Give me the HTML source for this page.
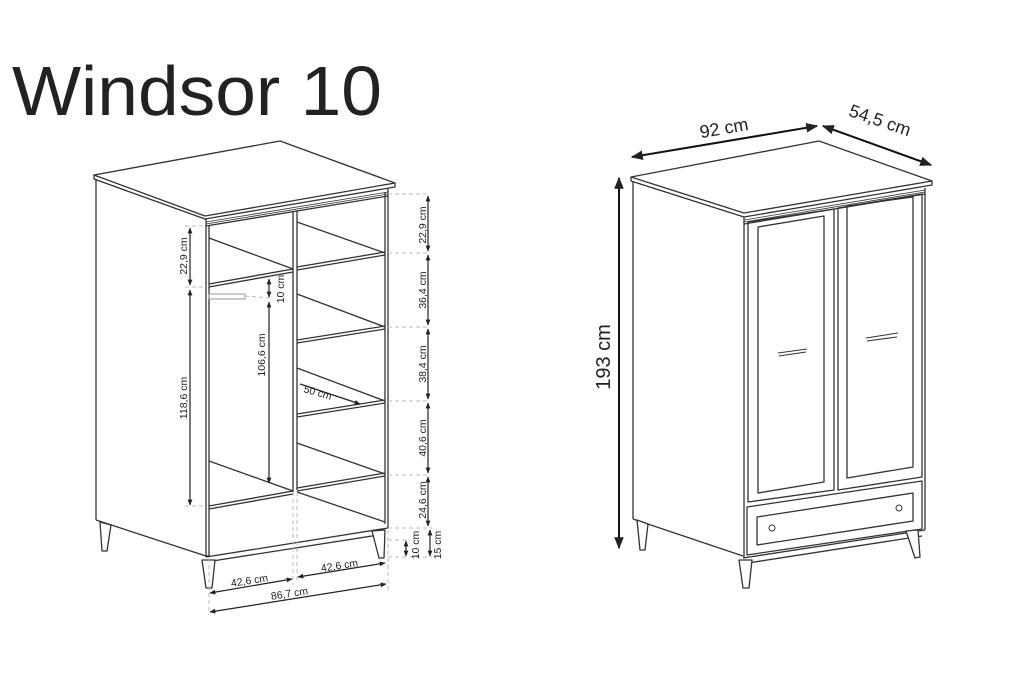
<!DOCTYPE html>
<html><head><meta charset="utf-8"><style>
html,body{margin:0;padding:0;background:#fff;}
svg{display:block;}
text{font-family:"Liberation Sans",sans-serif;fill:#222;}
</style></head><body>
<svg width="1024" height="680" viewBox="0 0 1024 680" xmlns="http://www.w3.org/2000/svg">
<defs>
<marker id="a" viewBox="0 0 10 10" refX="9" refY="5" markerWidth="6" markerHeight="6" orient="auto-start-reverse"><path d="M0,1 L10,5 L0,9 z" fill="#222"/></marker>
<marker id="b" viewBox="0 0 10 10" refX="9" refY="5" markerWidth="5" markerHeight="5" orient="auto-start-reverse"><path d="M0,1 L10,5 L0,9 z" fill="#222"/></marker>
</defs>
<rect width="1024" height="680" fill="#fff"/>
<text x="12" y="115" font-size="70" textLength="370" lengthAdjust="spacingAndGlyphs">Windsor 10</text>

<!-- LEFT CABINET -->
<g fill="none" stroke="#333" stroke-width="1.3" stroke-linejoin="round">
<polygon points="94,175 280,141 395,183 205,216" fill="#fff"/>
<polyline points="94,175 94,179 205,219 395,187 395,183"/>
<line x1="96" y1="179" x2="96" y2="520"/>
<line x1="96" y1="520" x2="206" y2="556"/>
<line x1="206" y1="219" x2="206" y2="557"/>
<line x1="209" y1="226" x2="209" y2="556"/>
<line x1="388" y1="188" x2="388" y2="528"/>
<line x1="385" y1="192" x2="385" y2="524"/>
<line x1="206" y1="222" x2="388" y2="192" stroke-width="0.8"/>
<line x1="206" y1="224" x2="388" y2="194" stroke-width="0.8"/>
<line x1="206" y1="226" x2="388" y2="196"/>
<line x1="206" y1="557" x2="388" y2="528"/>
<line x1="206" y1="562" x2="385" y2="534"/>
<line x1="206" y1="556" x2="210" y2="556"/>
<line x1="293" y1="212" x2="293" y2="492"/>
<line x1="297" y1="211" x2="297" y2="490"/>
<line x1="209" y1="238" x2="293" y2="269"/>
<line x1="209" y1="284" x2="293" y2="269"/>
<line x1="209" y1="287" x2="293" y2="272"/>
<line x1="209" y1="461" x2="293" y2="491"/>
<line x1="209" y1="506" x2="293" y2="491"/>
<line x1="209" y1="509" x2="293" y2="494"/>
<line x1="297" y1="492" x2="385" y2="522"/>
<rect x="209" y="294" width="36" height="5" stroke="#999" stroke-width="1"/>
<line x1="297" y1="222" x2="385" y2="253"/>
<line x1="297" y1="267" x2="385" y2="252"/><line x1="297" y1="270" x2="385" y2="255"/>
<line x1="297" y1="294" x2="385" y2="327"/>
<line x1="297" y1="340" x2="385" y2="326"/><line x1="297" y1="343" x2="385" y2="329"/>
<line x1="297" y1="368" x2="385" y2="401"/>
<line x1="297" y1="414" x2="385" y2="400"/><line x1="297" y1="417" x2="385" y2="403"/>
<line x1="297" y1="443" x2="385" y2="474"/>
<line x1="297" y1="488" x2="385" y2="473"/><line x1="297" y1="491" x2="385" y2="476"/>
<polygon points="202,560 215,560 212,588 206,588" fill="#fff"/>
<polygon points="372,531 385,530 384,558 379,558" fill="#fff"/>
<polygon points="100,522 111,525 107,551 102,551" fill="#fff"/>
</g>
<g stroke="#bbb" stroke-width="1" stroke-dasharray="4,3" fill="none">
<line x1="388" y1="194" x2="428" y2="194"/>
<line x1="388" y1="253" x2="428" y2="253"/>
<line x1="388" y1="327" x2="428" y2="327"/>
<line x1="388" y1="401" x2="428" y2="401"/>
<line x1="388" y1="475" x2="428" y2="475"/>
<line x1="388" y1="528" x2="432" y2="528"/>
<line x1="388" y1="557" x2="432" y2="557"/>
<line x1="388" y1="540" x2="408" y2="540"/>
<line x1="293" y1="492" x2="293" y2="585"/>
<line x1="297" y1="492" x2="297" y2="580"/>
<line x1="209" y1="558" x2="209" y2="615"/>
<line x1="388" y1="530" x2="388" y2="590"/>
<line x1="185" y1="226" x2="206" y2="226"/>
<line x1="185" y1="287" x2="206" y2="287"/>
<line x1="185" y1="506" x2="206" y2="506"/>
<line x1="245" y1="296" x2="270" y2="298"/>
</g>
<g stroke="#222" stroke-width="1.2" fill="none">
<line x1="190" y1="228" x2="190" y2="285" marker-start="url(#b)" marker-end="url(#b)"/>
<line x1="190" y1="290" x2="190" y2="505" marker-start="url(#b)" marker-end="url(#b)"/>
<line x1="269" y1="279" x2="269" y2="297" marker-start="url(#b)" marker-end="url(#b)"/>
<line x1="269" y1="302" x2="269" y2="483" marker-start="url(#b)" marker-end="url(#b)"/>
<line x1="300" y1="384" x2="360" y2="404" marker-end="url(#b)"/>
<line x1="428" y1="196" x2="428" y2="251" marker-start="url(#b)" marker-end="url(#b)"/>
<line x1="428" y1="255" x2="428" y2="325" marker-start="url(#b)" marker-end="url(#b)"/>
<line x1="428" y1="329" x2="428" y2="399" marker-start="url(#b)" marker-end="url(#b)"/>
<line x1="428" y1="403" x2="428" y2="473" marker-start="url(#b)" marker-end="url(#b)"/>
<line x1="428" y1="477" x2="428" y2="526" marker-start="url(#b)" marker-end="url(#b)"/>
<line x1="406" y1="541" x2="406" y2="556" marker-start="url(#b)" marker-end="url(#b)"/>
<line x1="430" y1="530" x2="430" y2="556" marker-start="url(#b)" marker-end="url(#b)"/>
<line x1="210" y1="593" x2="292" y2="579" marker-start="url(#b)" marker-end="url(#b)"/>
<line x1="298" y1="577" x2="385" y2="563" marker-start="url(#b)" marker-end="url(#b)"/>
<line x1="210" y1="612" x2="386" y2="584" marker-start="url(#b)" marker-end="url(#b)"/>
</g>
<g font-size="10.5">
<text transform="translate(187,256) rotate(-90)" text-anchor="middle">22,9 cm</text>
<text transform="translate(187,398) rotate(-90)" text-anchor="middle">118,6 cm</text>
<text transform="translate(284,289) rotate(-90)" text-anchor="middle">10 cm</text>
<text transform="translate(265,355) rotate(-90)" text-anchor="middle">106,6 cm</text>
<text transform="translate(303,392) rotate(16)">50 cm</text>
<text transform="translate(426,225) rotate(-90)" text-anchor="middle">22,9 cm</text>
<text transform="translate(426,290) rotate(-90)" text-anchor="middle">36,4 cm</text>
<text transform="translate(426,364) rotate(-90)" text-anchor="middle">38,4 cm</text>
<text transform="translate(426,438) rotate(-90)" text-anchor="middle">40,6 cm</text>
<text transform="translate(426,500) rotate(-90)" text-anchor="middle">24,6 cm</text>
<text transform="translate(419,545) rotate(-90)" text-anchor="middle">10 cm</text>
<text transform="translate(441,545) rotate(-90)" text-anchor="middle">15 cm</text>
<text transform="translate(250,584) rotate(-9)" text-anchor="middle">42,6 cm</text>
<text transform="translate(340,569) rotate(-9)" text-anchor="middle">42,6 cm</text>
<text transform="translate(290,597) rotate(-9)" text-anchor="middle">86,7 cm</text>
</g>

<!-- RIGHT CABINET -->
<g fill="none" stroke="#333" stroke-width="1.3" stroke-linejoin="round">
<polygon points="631,177 819,141 932,181 744,213" fill="#fff"/>
<polyline points="631,177 631,181 744,217 932,185 932,181"/>
<line x1="633" y1="181" x2="633" y2="519"/>
<line x1="633" y1="519" x2="743" y2="556"/>
<line x1="744" y1="217" x2="744" y2="558"/>
<line x1="925" y1="188" x2="925" y2="530"/>
<line x1="744" y1="220" x2="925" y2="190" stroke-width="0.8"/>
<line x1="744" y1="222" x2="925" y2="192" stroke-width="0.8"/>
<line x1="744" y1="224" x2="925" y2="194"/>
<line x1="743" y1="558" x2="925" y2="530"/>
<line x1="748" y1="563" x2="922" y2="536"/>
<polygon points="748,222 834,209 834,490 748,502"/>
<polygon points="758,227 824,216 824,482 758,493"/>
<polygon points="838,208 922,194 922,477 838,490"/>
<polygon points="847,206 913,197 913,467 847,478"/>
<polygon points="747,507 922,481 922,529 747,555"/>
<polygon points="757,517 913,493 913,521 757,545"/>
<path d="M778,353 L807,349 M779,356 L806,352" stroke-width="1"/>
<path d="M866,338 L898,333 M867,341 L897,337" stroke-width="1"/>
<circle cx="772" cy="528" r="3" stroke-width="1"/>
<circle cx="899" cy="508" r="3" stroke-width="1"/>
<polygon points="739,560 752,560 749,588 743,588" fill="#fff"/>
<polygon points="906,531 918,530 920,557 915,558" fill="#fff"/>
<polygon points="637,520 648,524 645,550 640,550" fill="#fff"/>
</g>
<g stroke="#111" stroke-width="2" fill="none">
<line x1="619" y1="178" x2="619" y2="548" marker-start="url(#a)" marker-end="url(#a)"/>
<line x1="632" y1="157" x2="817" y2="126" marker-start="url(#a)" marker-end="url(#a)"/>
<line x1="823" y1="126" x2="931" y2="165" marker-start="url(#a)" marker-end="url(#a)"/>
</g>
<text transform="translate(610,357) rotate(-90)" text-anchor="middle" font-size="20">193 cm</text>
<text transform="translate(725,134) rotate(-10)" text-anchor="middle" font-size="18">92 cm</text>
<text transform="translate(878,126) rotate(19)" text-anchor="middle" font-size="18">54,5 cm</text>
</svg>
</body></html>
